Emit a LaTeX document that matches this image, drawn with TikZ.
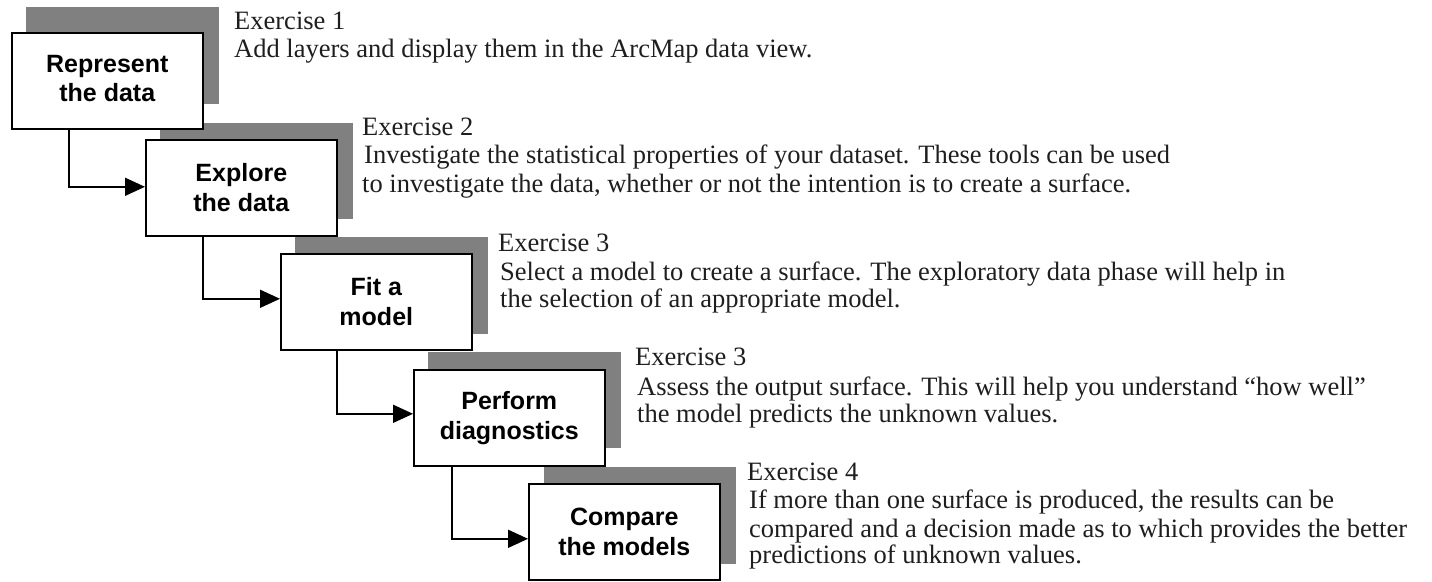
\documentclass[tikz,border=0pt]{standalone}
\usepackage{fontspec}
\setmainfont{Liberation Serif}
\setsansfont{Liberation Sans}
\usetikzlibrary{arrows.meta}
\definecolor{shadowgray}{RGB}{128,128,128}
\definecolor{ink}{RGB}{30,30,30}
\begin{document}
\begin{tikzpicture}[x=1pt,y=-1pt,
  stepbox/.style={draw=black, line width=1.6pt, fill=white, minimum width=191pt,
    minimum height=96pt, inner sep=0pt, align=center, anchor=north west,
    font=\sffamily\bfseries\fontsize{25}{30}\selectfont},
  desc/.style={anchor=base west, inner sep=0pt, text=ink,
    font=\fontsize{26.5}{28}\selectfont},
  shadowbox/.style={fill=shadowgray},
  conn/.style={line width=1.6pt, -{Triangle[length=20pt,width=18pt]}}]
\useasboundingbox (0,0) rectangle (1432,581);
% shadows
\fill[shadowbox] (26,7) rectangle (219,104);
\fill[shadowbox] (160,123) rectangle (353,219);
\fill[shadowbox] (295,237) rectangle (488,334);
\fill[shadowbox] (428,352) rectangle (621,448);
\fill[shadowbox] (544,467) rectangle (736,564);
% boxes
\node[stepbox] (b1) at (11,32) {\raisebox{5pt}{\shortstack{Represent\\[2pt]the data}}};
\node[stepbox] (b2) at (145,139) {Explore\\the data};
\node[stepbox] (b3) at (280,253) {Fit a\\model};
\node[stepbox] (b4) at (413,369) {Perform\\diagnostics};
\node[stepbox] (b5) at (528,483) {Compare\\the models};
% connectors
\draw[conn] ([xshift=58pt]b1.south west) |- ([yshift=1pt]b2.west);
\draw[conn] ([xshift=58pt]b2.south west) |- ([yshift=3pt]b3.west);
\draw[conn] ([xshift=57pt]b3.south west) |- ([yshift=4pt]b4.west);
\draw[conn] ([xshift=39pt]b4.south west) |- ([yshift=-7pt]b5.west);
% texts
\node[desc] (t1a) at (234,29) {Exercise 1};
\node[desc] (t1b) at (234,57) {Add layers and display them in the ArcMap data view.};
\node[desc] (t2a) at (362,135) {Exercise 2};
\node[desc] (t2b) at (364,163) {Investigate the statistical properties of your dataset. These tools can be used};
\node[desc] (t2c) at (362,192) {to investigate the data, whether or not the intention is to create a surface.};
\node[desc] (t3a) at (498,251) {Exercise 3};
\node[desc] (t3b) at (500,280) {Select a model to create a surface. The exploratory data phase will help in};
\node[desc] (t3c) at (500,307) {the selection of an appropriate model.};
\node[desc] (t4a) at (635,365) {Exercise 3};
\node[desc] (t4b) at (637,395) {Assess the output surface. This will help you understand “how well”};
\node[desc] (t4c) at (637,422) {the model predicts the unknown values.};
\node[desc] (t5a) at (747,480) {Exercise 4};
\node[desc] (t5b) at (749,508) {If more than one surface is produced, the results can be};
\node[desc] (t5c) at (749,537) {compared and a decision made as to which provides the better};
\node[desc] (t5d) at (749,563) {predictions of unknown values.};
\end{tikzpicture}
\end{document}
